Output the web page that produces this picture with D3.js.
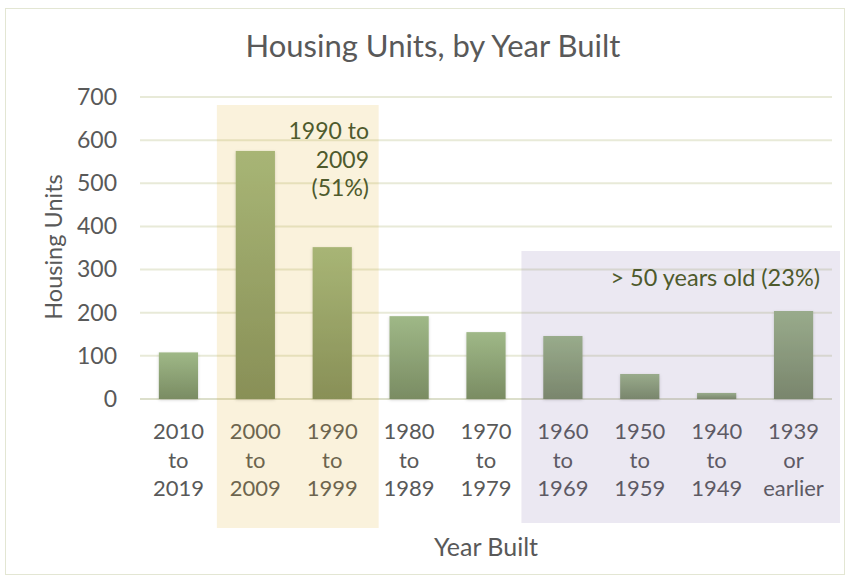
<!DOCTYPE html>
<html>
<head>
<meta charset="utf-8">
<script src="https://cdn.jsdelivr.net/npm/d3@7"></script>
<style>
  body { margin: 0; background: #fff; }
  svg text { font-family: Lato, "Open Sans", sans-serif; }
</style>
</head>
<body>
<div id="chart"></div>
<script>
'use strict';

// data
let categories = ["2010 to 2019", "2000 to 2009", "1990 to 1999", "1980 to 1989",
  "1970 to 1979", "1960 to 1969", "1950 to 1959", "1940 to 1949", "1939 or earlier"];
let labelLines = [["2010", "to", "2019"], ["2000", "to", "2009"], ["1990", "to", "1999"],
  ["1980", "to", "1989"], ["1970", "to", "1979"], ["1960", "to", "1969"],
  ["1950", "to", "1959"], ["1940", "to", "1949"], ["1939", "or", "earlier"]];
let units = [108, 575, 352, 192, 155, 146, 58, 14, 204];
let yTicks = [0, 100, 200, 300, 400, 500, 600, 700];

let width = 850, height = 579;

let svg = d3.select('#chart')
  .append('svg')
  .attr('width', width)
  .attr('height', height);

// bar gradient + soft shadow
let defs = svg.append('defs');
let grad = defs.append('linearGradient')
  .attr('id', 'barGrad')
  .attr('x1', 0).attr('y1', 0).attr('x2', 0).attr('y2', 1);
grad.append('stop').attr('offset', '0%').attr('stop-color', '#9fb887');
grad.append('stop').attr('offset', '100%').attr('stop-color', '#7a8c63');

let shadow = defs.append('filter').attr('id', 'shadow')
  .attr('x', '-20%').attr('y', '-10%').attr('width', '140%').attr('height', '120%');
shadow.append('feDropShadow')
  .attr('dx', 0).attr('dy', 1).attr('stdDeviation', 1.5)
  .attr('flood-color', '#000').attr('flood-opacity', 0.18);

// outer border
svg.append('rect')
  .attr('x', 5.5).attr('y', 8.5)
  .attr('width', 839).attr('height', 566)
  .attr('fill', 'none')
  .attr('stroke', '#e3e6d3');

// scales
let x = d3.scaleBand()
  .domain(categories)
  .range([140, 832])
  .paddingInner(0.49)
  .paddingOuter(0.245);

let y = d3.scaleLinear()
  .domain([0, 700])
  .range([399, 97]);

// gridlines
svg.append('g')
  .selectAll('line')
  .data(yTicks)
  .enter()
  .append('line')
  .attr('x1', 140).attr('x2', 832)
  .attr('y1', (d) => y(d)).attr('y2', (d) => y(d))
  .attr('stroke', (d) => d === 0 ? '#dcdfcb' : '#e8ead8')
  .attr('stroke-width', 2);

// y axis (labels only)
let yAxis = d3.axisLeft(y).tickValues(yTicks).tickSize(0).tickPadding(0);
let yG = svg.append('g')
  .attr('transform', 'translate(117, 0)')
  .call(yAxis);
yG.select('.domain').remove();
yG.selectAll('text')
  .style('font-family', 'Lato, sans-serif')
  .style('font-size', '23px')
  .attr('fill', '#595959');

// bars
svg.append('g')
  .selectAll('rect')
  .data(units)
  .enter()
  .append('rect')
  .attr('x', (d, i) => x(categories[i]))
  .attr('y', (d) => y(d))
  .attr('width', x.bandwidth())
  .attr('height', (d) => y(0) - y(d))
  .attr('fill', 'url(#barGrad)')
  .attr('filter', 'url(#shadow)');

// x category labels
let xLab = svg.append('g');
categories.forEach((c, i) => {
  let t = xLab.append('text')
    .attr('text-anchor', 'middle')
    .attr('fill', '#595959')
    .style('font-size', '22px');
  labelLines[i].forEach((line, j) => {
    t.append('tspan')
      .attr('x', x(c) + x.bandwidth() / 2)
      .attr('y', 439 + j * 28.5)
      .text(line);
  });
});

// highlight overlays (semi-transparent, drawn over bars and labels)
let step = x.step();
svg.append('rect')
  .attr('x', x(categories[1]) - (step - x.bandwidth()) / 2)
  .attr('y', 105)
  .attr('width', step * 2 + 8)
  .attr('height', 423)
  .attr('fill', '#dea816')
  .attr('opacity', 0.15);

svg.append('rect')
  .attr('x', x(categories[5]) - (step - x.bandwidth()) / 2 - 3)
  .attr('y', 251)
  .attr('width', step * 4 + 11)
  .attr('height', 272)
  .attr('fill', '#7a66a8')
  .attr('opacity', 0.15);

// annotations
let ann1 = svg.append('text')
  .attr('text-anchor', 'end')
  .attr('fill', '#4e5a2c')
  .style('font-size', '23px');
["1990 to", "2009", "(51%)"].forEach((line, j) => {
  ann1.append('tspan')
    .attr('x', 369)
    .attr('y', 139 + j * 28.5)
    .text(line);
});

svg.append('text')
  .attr('x', 820)
  .attr('y', 286)
  .attr('text-anchor', 'end')
  .attr('fill', '#4e5a2c')
  .style('font-size', '23.5px')
  .text('> 50 years old (23%)');

// title and axis titles
svg.append('text')
  .attr('x', 433)
  .attr('y', 57)
  .attr('text-anchor', 'middle')
  .attr('fill', '#595959')
  .style('font-size', '31px')
  .text('Housing Units, by Year Built');

svg.append('text')
  .attr('transform', 'translate(62, 247) rotate(-90)')
  .attr('text-anchor', 'middle')
  .attr('fill', '#595959')
  .style('font-size', '23.5px')
  .text('Housing Units');

svg.append('text')
  .attr('x', 486)
  .attr('y', 556)
  .attr('text-anchor', 'middle')
  .attr('fill', '#595959')
  .style('font-size', '25px')
  .text('Year Built');
</script>
</body>
</html>
